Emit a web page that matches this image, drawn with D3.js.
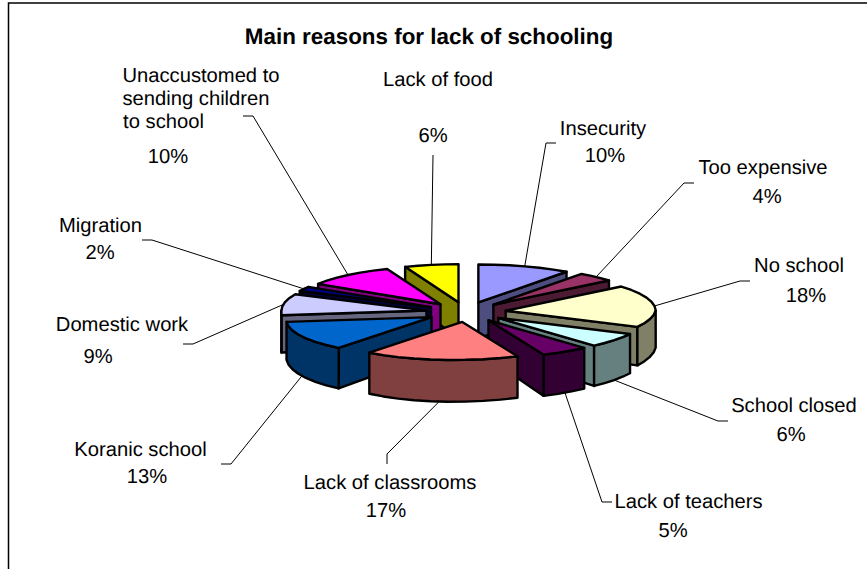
<!DOCTYPE html>
<html>
<head>
<meta charset="utf-8">
<script src="https://cdn.jsdelivr.net/npm/d3@7"></script>
<style>
  html, body { margin: 0; padding: 0; background: #fff; }
  svg { display: block; }
  text { font-family: "Liberation Sans", Arial, sans-serif; fill: #000; text-rendering: geometricPrecision; }
</style>
</head>
<body>
<svg id="chart" width="867" height="569"></svg>
<script>
// Reasons and their shares, clockwise from twelve o'clock
const reasons = ["Insecurity", "Too expensive", "No school", "School closed", "Lack of teachers",
  "Lack of classrooms", "Koranic school", "Domestic work", "Migration",
  "Unaccustomed to sending children to school", "Lack of food"];
const shares = [10, 4, 18, 6, 5, 17, 13, 9, 2, 10, 6];
const topColors = ["#9999FF", "#993366", "#FFFFCC", "#CCFFFF", "#660066", "#FF8080",
  "#0066CC", "#CCCCFF", "#000080", "#FF00FF", "#FFFF00"];
const wallColors = ["#4D4D80", "#4D1A33", "#808066", "#668080", "#330033", "#804040",
  "#003366", "#666680", "#000040", "#800080", "#808000"];

// Label placement: text lines with centre x and baseline y, then the leader's elbow
const labelLayout = [
  { lines: [["Insecurity", 603, 135], ["10%", 605, 162]], leader: [[556, 143], [546, 143]] },
  { lines: [["Too expensive", 763, 174], ["4%", 767, 203]], leader: [[694, 183], [684, 183]] },
  { lines: [["No school", 799, 272], ["18%", 806, 302]], leader: [[750, 281], [740, 281]] },
  { lines: [["School closed", 794, 412], ["6%", 791, 441]], leader: [[728, 421], [718, 421]] },
  { lines: [["Lack of teachers", 688.5, 508], ["5%", 673, 537]], leader: [[612, 502], [602, 502]] },
  { lines: [["Lack of classrooms", 390, 489], ["17%", 386, 517]], leader: [[387, 464], [387, 454]] },
  { lines: [["Koranic school", 140.5, 456], ["13%", 147, 483]], leader: [[221, 464], [231, 464]] },
  { lines: [["Domestic work", 122, 331], ["9%", 98, 363]], leader: [[183, 344], [193, 344]] },
  { lines: [["Migration", 100.5, 232], ["2%", 100, 259]], leader: [[142, 240], [152, 240]] },
  { lines: [["Unaccustomed to", 201, 82], ["sending children", 196, 105], ["to school", 163.5, 128], ["10%", 168, 163]],
    leader: [[243, 116], [253, 116]] },
  { lines: [["Lack of food", 438, 86], ["6%", 433, 142]], leader: [[433, 155], [433, 155]] }
];

const svg = d3.select("#chart");

// Chart frame: only the top and left rules fall inside the window
svg.append("path").attr("d", "M867,3H8.5V569").attr("fill", "none").attr("stroke", "#000").attr("stroke-width", 1.5);

svg.append("text").attr("x", 429).attr("y", 43.5).attr("text-anchor", "middle")
  .attr("font-weight", "bold").attr("font-size", 22.4).text("Main reasons for lack of schooling");

// Pie projection: a flattened disc with exploded slices and a slight front shear
const cx = 466, cy = 312, rxRight = 150, rxLeft = 145, ry = 38, explodeX = 40, explodeY = 10, shear = 0.25;
const depth = y => 37 + (y - cy) * 0.1;

const pie = d3.pie().value(d => d).sort(null);
const arcs = pie(shares).map((a, i) => {
  const mid = (a.startAngle + a.endAngle) / 2;
  const apex = [cx + explodeX * Math.sin(mid), cy - explodeY * Math.cos(mid)];
  const rim = t => {
    const y = apex[1] - ry * Math.cos(t);
    const s = Math.sin(t);
    return [apex[0] + (s < 0 ? rxLeft : rxRight) * s - shear * Math.max(0, y - apex[1]), y];
  };
  return { i, mid, start: a.startAngle, end: a.endAngle, apex, rim };
});

const drop = p => [p[0], p[1] + depth(p[1])];
const line = d3.line();
const sampleRim = (a, from, to) => {
  const n = Math.max(1, Math.ceil((to - from) / 0.12));
  return d3.range(n + 1).map(k => a.rim(from + (to - from) * k / n));
};
const frontFacing = (from, to) => [Math.max(from, Math.PI / 2), Math.min(to, 3 * Math.PI / 2)];

// Leaders sit underneath the slices and run to the rim at each slice's middle
arcs.forEach(a => {
  const layout = labelLayout[a.i];
  const rimPoint = a.rim(a.mid);
  const end = Math.cos(a.mid) < 0 ? drop(rimPoint) : rimPoint;
  svg.append("path").attr("d", line([...layout.leader, end]))
    .attr("fill", "none").attr("stroke", "#000").attr("stroke-width", 1);
});

// Painter's order: slices farthest from the viewer first
arcs.slice().sort((p, q) => Math.cos(q.mid) - Math.cos(p.mid)).forEach(a => {
  const g = svg.append("g").attr("stroke", "#000").attr("stroke-width", 2.4).attr("stroke-linejoin", "round");
  const wall = pts => g.append("path")
    .attr("d", line([...pts, ...pts.map(drop).reverse()]) + "Z").attr("fill", wallColors[a.i]);

  if (Math.sin(a.start) < -1e-6) wall([a.apex, a.rim(a.start)]);
  if (Math.sin(a.end) > 1e-6) wall([a.apex, a.rim(a.end)]);
  const [f0, f1] = frontFacing(a.start, a.end);
  if (f1 > f0) wall(sampleRim(a, f0, f1));

  g.append("path").attr("d", line([a.apex, ...sampleRim(a, a.start, a.end)]) + "Z").attr("fill", topColors[a.i]);
});

// Category and percentage labels
labelLayout.forEach(l => l.lines.forEach(([t, x, y]) => {
  svg.append("text").attr("x", x).attr("y", y).attr("text-anchor", "middle").attr("font-size", 20.2).text(t);
}));
</script>
</body>
</html>
